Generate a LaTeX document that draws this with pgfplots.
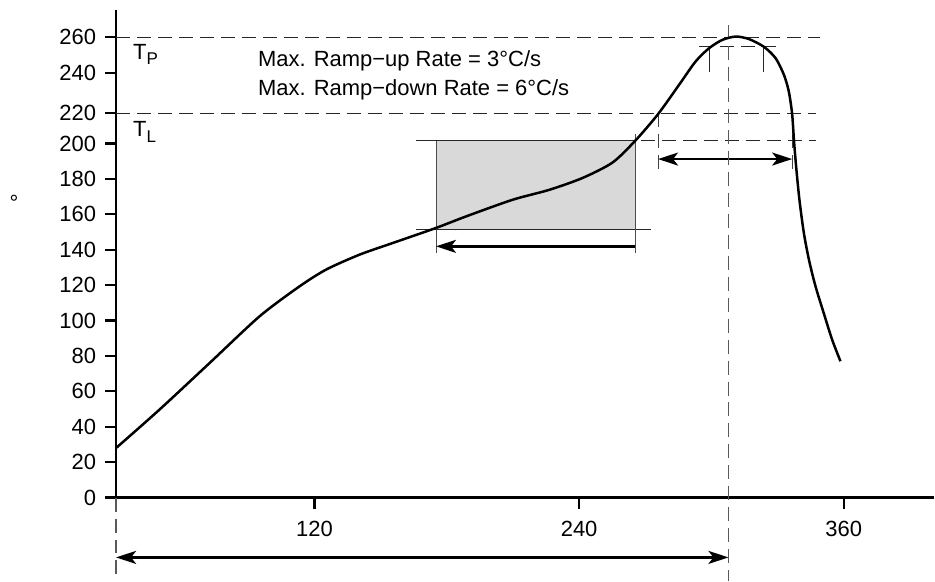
\documentclass[border=0pt]{standalone}
\usepackage{fontspec}
\setmainfont{Liberation Sans}
\usepackage{pgfplots}
\pgfplotsset{compat=1.18}
\usetikzlibrary{arrows.meta}

\definecolor{boxgray}{HTML}{D9D9D9}
\tikzset{harr/.style={line width=1.2pt}, tip/.tip={Stealth[length=10pt,width=6.5pt,inset=2.5pt]}}

\begin{document}
\begin{tikzpicture}
\begin{axis}[
  x=1.10415pt, y=0.8865pt,
  xmin=30, xmax=400.8, ymin=0, ymax=275.4,
  axis lines=left,
  axis line style={-, line width=1.3pt},
  clip=false,
  xtick={120,240,360},
  ytick={0,20,40,60,80,100,120,140,160,180,200,217,240,260},
  yticklabels={0,20,40,60,80,100,120,140,160,180,200,220,240,260},
  tick align=outside,
  major tick length=5.5pt,
  tick style={line width=1.1pt, black},
  tick label style={font=\fontsize{11}{12}\selectfont},
  /pgf/number format/assume math mode=true,
  xticklabel style={yshift=-3pt},
  yticklabel style={xshift=-1pt},
]
% preheat box
\addplot[fill=boxgray, draw=none] coordinates {(175.1,151.3) (265.4,151.3) (265.4,201.5) (175.1,201.5)} -- cycle;

% dashed reference lines
\addplot[black!85, line width=0.5pt, dash pattern=on 7pt off 3.5pt] coordinates {(30,260) (349.4,260)};
\addplot[black!85, line width=0.5pt, dash pattern=on 7pt off 3.5pt] coordinates {(30,217) (347.2,217)};
\addplot[black!85, line width=0.5pt, dash pattern=on 7pt off 3.5pt] coordinates {(268,201.5) (347.6,201.5)};
\addplot[black!85, line width=0.5pt] coordinates {(166,201.5) (265.4,201.5)};
\addplot[black!85, line width=0.5pt] coordinates {(166,151.3) (272.6,151.3)};
\addplot[black!70, line width=0.5pt] coordinates {(175.1,201.5) (175.1,138.4)};
\addplot[black!70, line width=0.5pt] coordinates {(265.4,205.6) (265.4,138.4)};
\addplot[black, harr, -tip] coordinates {(265.4,141.9) (175.1,141.9)};

% time above liquidus
\addplot[black!75, line width=0.5pt, dash pattern=on 7pt off 3.5pt] coordinates {(275.8,217) (275.8,183.5)};
\addplot[black!75, line width=0.5pt, dash pattern=on 7pt off 3.5pt] coordinates {(336.6,217) (336.6,183.5)};
\addplot[black, harr, tip-tip] coordinates {(275.8,191.2) (336.6,191.2)};

% peak window
\addplot[black!85, line width=0.5pt, dash pattern=on 7pt off 3.5pt] coordinates {(294.3,254.7) (329.1,254.7)};
\addplot[black!85, line width=0.5pt] coordinates {(298.9,254.7) (298.9,240.5)};
\addplot[black!85, line width=0.5pt] coordinates {(323.8,254.7) (323.8,240.5)};

% time to peak
\addplot[black!65, line width=0.6pt, dash pattern=on 7pt off 3.5pt] coordinates {(307.7,266.9) (307.7,-47)};
\addplot[black!65, line width=0.6pt, dash pattern=on 7pt off 3.5pt] coordinates {(30,0) (30,-47)};
\addplot[black, harr, tip-tip] coordinates {(30,-33.8) (307.7,-33.8)};

% reflow profile
\addplot[black, line width=1.25pt, smooth, tension=0.45] coordinates {
(30.2,28.2) (49.8,49.8) (72.5,76.1) (95.1,102.4) (113.2,119.3) (125.3,128.8)
(140.4,137.2) (155.5,143.8) (175.1,152.3) (188.7,158.8) (209.8,168.2) (226.4,173.8)
(241.5,180.5) (255.1,189.2) (265.4,201.5) (275.8,216.6) (285.3,233.1)
(292.8,246.3) (298.9,253.8) (304.9,258.5) (311,260.4) (317,259) (323.8,254.6)
(329.1,248.2) (332.9,238.7) (335.1,229.3) (336.6,216.6) (337.4,202.1) (338.4,187)
(339.9,168.2) (341.9,149.5) (344.2,134.4) (347.2,119.3) (350.9,104.3) (354.7,89.3)
(358.5,77)};

% labels
\node[anchor=west, inner sep=0, font=\fontsize{11}{12}\selectfont] at (axis cs:37.6,250.5) {T\raisebox{-0.45ex}{\fontsize{8.5}{9}\selectfont P}};
\node[anchor=west, inner sep=0, font=\fontsize{11}{12}\selectfont] at (axis cs:37.6,206.5) {T\raisebox{-0.45ex}{\fontsize{8.5}{9}\selectfont L}};
\node[anchor=west, inner sep=0, font=\fontsize{11}{12}\selectfont] at (axis cs:94.2,246.5) {Max. Ramp−up Rate = 3°C/s};
\node[anchor=west, inner sep=0, font=\fontsize{11}{12}\selectfont] at (axis cs:94.2,230.3) {Max. Ramp−down Rate = 6°C/s};
\node[inner sep=0, font=\fontsize{11}{12}\selectfont] at (axis cs:-16.3,166.5) {°};

% picture frame
\path (axis cs:-22.64,-47.2) rectangle (axis cs:400.8,281.05);
\end{axis}
\end{tikzpicture}
\end{document}
